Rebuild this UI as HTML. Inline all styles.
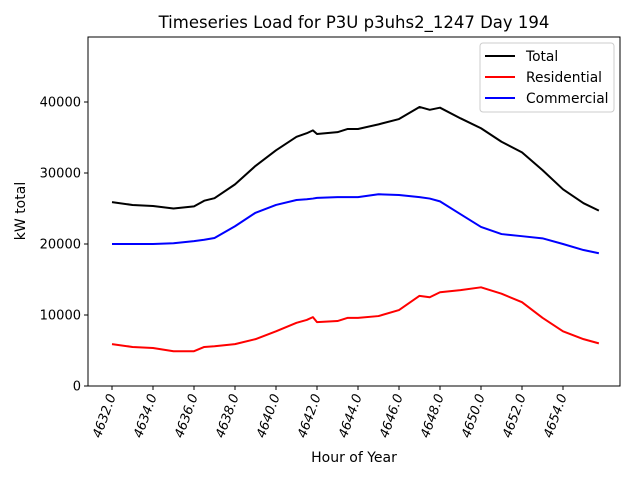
<!DOCTYPE html>
<html><head><meta charset="utf-8"><style>
body{margin:0;background:#fff;}
svg{font-family:"DejaVu Sans","Liberation Sans",sans-serif;}
</style></head><body>
<svg id="chart" width="640" height="480">
<rect width="640" height="480" fill="#fff"/>
<text x="354" y="28" font-size="16.5" text-anchor="middle">Timeseries Load for P3U p3uhs2_1247  Day 194</text>
<g id="plot"></g>
<text x="354" y="462" font-size="14" text-anchor="middle">Hour of Year</text>
<text transform="translate(25,211) rotate(-90)" font-size="14" text-anchor="middle">kW total</text>
</svg>
<script>
const hours=[4632,4633,4634,4635,4636,4636.5,4637,4638,4639,4640,4641,4641.5,4641.8,4642,4643,4643.5,4644,4645,4646,4647,4647.5,4648,4649,4650,4651,4652,4653,4654,4655,4655.75];
const residential=[5900,5500,5350,4900,4900,5500,5600,5900,6600,7700,8900,9300,9700,9000,9150,9600,9600,9850,10700,12700,12500,13200,13500,13900,13000,11800,9600,7700,6600,6000];
const commercial=[20000,20000,20000,20100,20400,20600,20850,22500,24400,25500,26200,26300,26400,26500,26600,26600,26600,27000,26900,26600,26400,26000,24200,22400,21400,21100,20800,20000,19150,18700];
const total=[25900,25500,25350,25000,25300,26100,26450,28400,31000,33200,35100,35600,36000,35500,35750,36200,36200,36850,37600,39300,38900,39200,37700,36300,34400,32900,30400,27700,25750,24700];
const xTicks=[4632,4634,4636,4638,4640,4642,4644,4646,4648,4650,4652,4654];
const yTicks=[0,10000,20000,30000,40000];
const L=88,R=620,T=37,B=386;
const xs=h=>112+(h-4632)*20.5;
const ys=v=>B-v/10000*71;
const NS="http://www.w3.org/2000/svg";
const g=document.getElementById('plot');
function mk(t,a,p){const e=document.createElementNS(NS,t);for(const k in a)e.setAttribute(k,a[k]);(p||g).appendChild(e);return e;}
const frame=mk('rect',{x:L,y:T,width:R-L,height:B-T,fill:'none',stroke:'#000','stroke-width':1});


xTicks.forEach(h=>{
  const x=xs(h);
  const tk=mk('line',{x1:x,x2:x,y1:B,y2:B+4,stroke:'#000'});
  
  
  const t=mk('text',{transform:`translate(${x+4},${B+10}) rotate(-70)`,'font-size':13,'text-anchor':'end','font-style':'italic'});
  t.textContent=h.toFixed(1);
  
  
});
yTicks.forEach(v=>{
  const y=ys(v);
  const tk=mk('line',{x1:L-4,x2:L,y1:y,y2:y,stroke:'#000'});
  
  
  const t=mk('text',{x:L-7,y:y+4.5,'font-size':13,'text-anchor':'end'});
  t.textContent=v;
  
  
});
const series=[['total-line',total,'#000'],['residential-line',residential,'#f00'],['commercial-line',commercial,'#00f']];
series.forEach(([n,d,c])=>{
  const p=mk('polyline',{points:d.map((v,i)=>xs(hours[i])+','+ys(v)).join(' '),fill:'none',stroke:c,'stroke-width':2,'stroke-linejoin':'round'});
  
  
});
const lg=mk('g',{});


mk('rect',{x:480,y:43,width:134,height:69,rx:3,fill:'#fff',stroke:'#ccc'},lg);
[['Total','#000'],['Residential','#f00'],['Commercial','#00f']].forEach(([lab,c],i)=>{
  const y=56+i*21;
  const ln=mk('line',{x1:485,x2:515,y1:y,y2:y,stroke:c,'stroke-width':2},lg);
  
  
  const t=mk('text',{x:526,y:y+5,'font-size':13.8},lg);
  t.textContent=lab;
  
  
});
</script>
</body></html>
